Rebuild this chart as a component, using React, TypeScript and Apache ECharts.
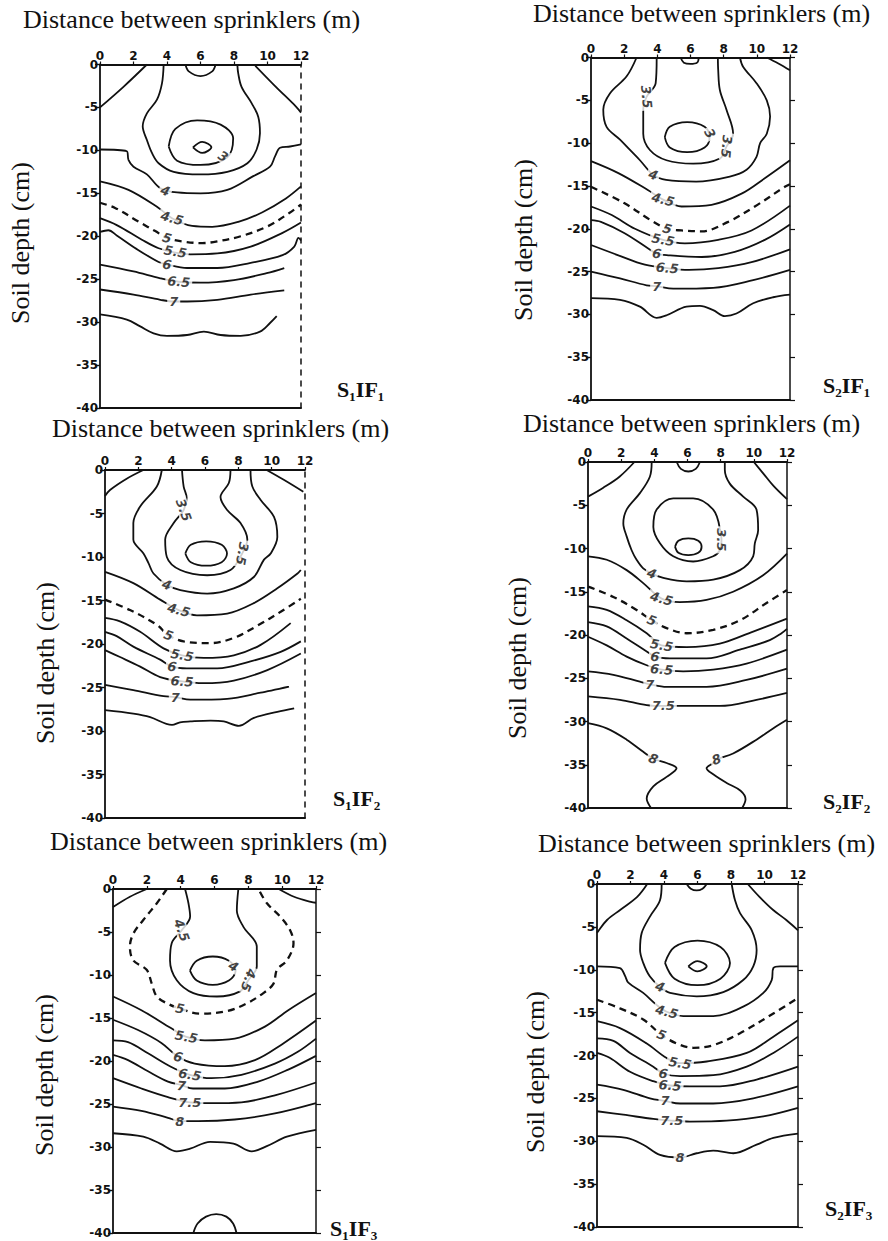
import { useEffect, useRef } from "react";
import * as echarts from "echarts";

// ---------- texts ----------
const TITLE = "Distance between sprinklers (m)";
const Y_NAME = "Soil depth (cm)";
const panelTags = ["S₁IF₁", "S₂IF₁", "S₁IF₂", "S₂IF₂", "S₁IF₃", "S₂IF₃"];

// ---------- axes ----------
const distMin = 0;
const distMax = 12;
const distStep = 2;
const depthMin = -40;
const depthMax = 0;
const depthStep = 5;

// ---------- panel 1 (S1IF1) contours: [distance m, depth cm] ----------
const p1_cap = [[5.1, 0], [5.3, -0.8], [6.0, -1.35], [6.7, -0.8], [6.9, 0]];
const p1_left = [[2.8, 0], [1.4, -2.6], [0, -5.0]];
const p1_right = [[9.2, 0], [10.5, -2.6], [11.7, -4.9], [12, -5.6]];
const p1_bulb = [[3.8, 0], [3.7, -2.2], [3.4, -4.1], [2.8, -5.7], [2.55, -7.2], [2.8, -8.8], [3.1, -10.3], [3.5, -11.5], [4.4, -12.5], [6.0, -12.8], [7.6, -12.5], [8.8, -11.5], [9.35, -9.9], [9.55, -8.0], [9.45, -6.1], [9.05, -4.5], [8.45, -2.6], [8.25, -1.0], [8.2, 0]];
const p1_c3 = [[4.1, -9.55], [4.5, -7.5], [5.8, -6.5], [7.2, -7.0], [7.95, -8.6], [7.6, -10.8], [6.0, -11.7], [4.6, -11.2], [4.1, -9.55]];
const p1_core = [[5.55, -9.65], [6.1, -9.0], [6.65, -9.65], [6.1, -10.3], [5.55, -9.65]];
const p1_c4 = [[0, -9.9], [1.6, -10.1], [1.7, -11.1], [2.0, -11.9], [2.8, -12.8], [3.6, -14.4], [4.6, -14.9], [6.0, -15.0], [7.6, -14.6], [9.15, -13.0], [10.15, -11.9], [10.45, -10.7], [10.75, -9.7], [11.35, -9.55], [12, -9.3]];
const p1_c45 = [[0, -13.6], [1.7, -14.6], [3.5, -16.7], [4.3, -17.9], [5.5, -18.8], [6.7, -18.9], [8.3, -18.3], [9.7, -17.2], [11.1, -15.6], [12, -14.2]];
const p1_c5 = [[0, -16.1], [0.9, -16.7], [2.3, -18.3], [3.3, -19.4], [4.0, -20.2], [4.9, -20.6], [6.1, -20.8], [7.0, -20.6], [8.4, -20.0], [9.95, -18.9], [11.3, -17.3], [12, -16.3]];
const p1_c55 = [[0, -17.9], [1.0, -18.7], [2.5, -20.4], [3.5, -21.4], [4.5, -21.9], [5.4, -22.1], [7.0, -22.0], [9.0, -21.2], [10.9, -19.6], [12, -18.4]];
const p1_c6 = [[0, -19.5], [0.5, -19.3], [1.0, -19.9], [2.2, -21.5], [3.5, -23.0], [4.0, -23.3], [5.2, -23.7], [7.0, -23.7], [9.0, -23.1], [10.9, -22.2], [11.6, -21.2], [11.85, -20.2], [12, -20.5]];
const p1_c65 = [[0, -23.3], [2.0, -24.1], [3.6, -24.9], [4.7, -25.3], [6.0, -25.4], [8.0, -25.1], [9.95, -24.3], [11.0, -23.7]];
const p1_c7 = [[0, -26.2], [2.0, -26.8], [3.6, -27.4], [4.4, -27.6], [5.2, -27.6], [7.0, -27.4], [9.0, -26.8], [11.0, -26.3]];
const p1_c75 = [[0, -29.1], [1.6, -29.7], [2.4, -30.5], [3.2, -31.3], [4.0, -31.6], [5.2, -31.5], [6.2, -31.1], [7.2, -31.5], [8.4, -31.6], [9.55, -31.1], [10.15, -30.1], [10.55, -29.3]];
const p1_labels = [[7.35, -10.7, "3"], [3.9, -14.7, "4"], [4.3, -17.9, "4.5"], [4.0, -20.2, "5"], [4.5, -21.8, "5.5"], [4.0, -23.3, "6"], [4.7, -25.3, "6.5"], [4.4, -27.6, "7"]];

// ---------- panel 2 (S2IF1) ----------
const p2_cap = [[5.4, 0], [5.6, -0.6], [6.0, -0.75], [6.4, -0.6], [6.5, 0]];
const p2_corner = [[10.6, 0], [11.3, -0.7], [12, -1.5]];
const p2_c4 = [[2.75, 0], [2.15, -2.2], [1.14, -4.2], [0.74, -6.1], [0.94, -8.1], [1.75, -9.6], [2.35, -10.8], [2.95, -12.0], [3.75, -13.7], [4.53, -14.3], [6.34, -14.5], [8.37, -13.9], [9.38, -13.1], [9.98, -11.6], [10.2, -10.0], [10.6, -8.9], [10.8, -6.9], [10.6, -5.0], [9.98, -3.0], [9.17, -1.07], [8.98, 0]];
const p2_c35 = [[3.96, 0], [3.9, -3.0], [3.35, -4.6], [3.15, -6.1], [3.15, -8.9], [3.55, -10.8], [4.55, -12.0], [6.16, -12.4], [7.77, -11.8], [8.17, -10.4], [8.57, -8.9], [8.17, -6.1], [7.77, -3.8], [7.67, -1.46], [7.65, 0]];
const p2_c3 = [[4.45, -9.3], [4.75, -8.1], [5.8, -7.55], [6.85, -8.1], [7.15, -9.3], [6.85, -10.5], [5.8, -11.05], [4.75, -10.5], [4.45, -9.3]];
const p2_c45 = [[0, -12.1], [1.65, -13.5], [3.45, -15.5], [4.35, -16.6], [5.46, -17.4], [7.27, -17.2], [9.08, -15.9], [10.48, -14.1], [12, -12.0]];
const p2_c5 = [[0, -15.1], [2.0, -17.0], [3.6, -19.0], [4.6, -20.0], [5.46, -20.2], [6.67, -20.3], [8.27, -19.2], [9.88, -17.4], [11.69, -15.1], [12, -14.8]];
const p2_c55 = [[0, -17.4], [1.25, -18.4], [2.65, -20.0], [4.35, -21.3], [5.66, -21.7], [7.67, -21.3], [9.68, -20.2], [12, -17.3]];
const p2_c6 = [[0, -19.0], [0.6, -19.2], [2.0, -20.5], [3.45, -22.3], [3.96, -22.9], [4.66, -23.1], [6.67, -23.3], [8.67, -22.7], [10.48, -21.3], [12, -19.5]];
const p2_c65 = [[0, -21.9], [1.65, -23.1], [3.25, -24.2], [4.6, -24.6], [5.9, -24.8], [7.67, -24.6], [9.68, -23.9], [12, -22.4]];
const p2_c7 = [[0, -25.0], [1.75, -25.8], [3.35, -26.6], [3.96, -26.7], [4.96, -27.0], [7.37, -26.9], [9.78, -26.0], [12, -24.8]];
const p2_c75 = [[0, -28.1], [1.75, -28.3], [2.95, -29.1], [3.96, -30.4], [4.56, -30.1], [5.76, -29.1], [6.57, -29.0], [7.37, -29.5], [8.07, -30.2], [8.77, -29.9], [9.78, -28.7], [10.98, -28.0], [12, -27.7]];
const p2_labels = [[7.17, -8.86, "3"], [3.35, -4.6, "3.5"], [8.17, -10.4, "3.5"], [3.75, -13.7, "4"], [4.35, -16.6, "4.5"], [4.6, -20.0, "5"], [4.35, -21.3, "5.5"], [3.96, -22.9, "6"], [4.6, -24.6, "6.5"], [3.96, -26.7, "7"]];

// ---------- panel 3 (S1IF2) ----------
const p3_left = [[2.3, 0], [1.3, -1.0], [0.3, -2.3], [0, -3.0]];
const p3_right = [[9.7, 0], [10.7, -1.1], [11.9, -2.5]];
const p3_c4 = [[3.41, 0], [3.11, -1.9], [2.11, -4.2], [1.7, -6.1], [1.7, -8.0], [2.31, -9.6], [2.61, -10.7], [2.91, -11.9], [3.71, -13.2], [4.52, -13.8], [6.13, -14.2], [7.73, -13.6], [8.93, -12.3], [9.54, -10.3], [9.94, -9.6], [10.34, -7.7], [10.14, -5.4], [9.34, -3.45], [8.84, -1.9], [8.73, 0]];
const p3_c35 = [[4.62, 0], [4.72, -1.9], [4.9, -3.2], [4.72, -4.6], [4.12, -6.1], [3.61, -8.0], [3.71, -10.0], [4.52, -11.5], [6.13, -12.1], [7.53, -11.5], [8.23, -9.6], [8.54, -8.0], [8.13, -6.1], [7.33, -4.6], [6.93, -3.1], [7.43, -1.5], [7.53, 0]];
const p3_c3 = [[4.82, -9.6], [5.15, -8.6], [6.07, -8.2], [7.0, -8.6], [7.32, -9.6], [7.0, -10.6], [6.07, -11.0], [5.15, -10.6], [4.82, -9.6]];
const p3_c45 = [[0, -11.7], [1.7, -13.0], [3.31, -14.9], [4.42, -16.1], [5.52, -16.7], [7.33, -16.5], [8.93, -15.3], [10.34, -13.6], [11.55, -11.9], [11.75, -11.5]];
const p3_c5 = [[0, -14.9], [1.5, -16.1], [3.11, -17.8], [3.81, -19.0], [4.72, -19.7], [6.33, -19.9], [7.73, -19.3], [9.14, -17.9], [10.54, -16.3], [11.75, -14.8]];
const p3_c55 = [[0, -17.0], [0.9, -17.4], [2.11, -18.6], [3.51, -20.5], [4.62, -21.3], [5.92, -21.6], [7.73, -21.3], [9.34, -20.1], [11.14, -17.6]];
const p3_c6 = [[0, -18.6], [0.7, -19.1], [1.7, -20.3], [3.31, -21.8], [4.02, -22.6], [4.92, -22.8], [6.73, -22.8], [8.73, -22.0], [10.54, -20.9], [11.75, -19.7]];
const p3_c65 = [[0, -20.7], [0.9, -21.5], [2.11, -22.6], [3.31, -23.8], [4.62, -24.3], [5.92, -24.5], [7.73, -24.2], [9.74, -23.0], [11.75, -21.1]];
const p3_c7 = [[0, -24.7], [1.7, -25.3], [3.51, -26.0], [4.22, -26.1], [5.12, -26.4], [7.33, -26.3], [9.34, -25.6], [11.04, -24.9]];
const p3_c75 = [[0, -27.6], [1.7, -28.0], [2.71, -28.4], [4.02, -29.3], [4.5, -29.0], [5.12, -28.9], [6.33, -28.8], [7.13, -28.9], [8.03, -29.4], [8.93, -28.5], [10.34, -27.8], [11.35, -27.4]];
const p3_labels = [[4.72, -4.6, "3.5"], [8.23, -9.6, "3.5"], [3.71, -13.2, "4"], [4.42, -16.1, "4.5"], [3.81, -19.0, "5"], [4.62, -21.3, "5.5"], [4.02, -22.6, "6"], [4.62, -24.3, "6.5"], [4.22, -26.1, "7"]];

// ---------- panel 4 (S2IF2) ----------
const p4_cap = [[5.35, 0], [5.6, -0.8], [6.05, -1.1], [6.5, -0.8], [6.75, 0]];
const p4_left = [[2.8, 0], [1.9, -1.7], [0.9, -3.0], [0, -4.0]];
const p4_right = [[10.0, 0], [10.6, -1.4], [11.2, -2.8], [12, -4.3]];
const p4_c4 = [[3.84, 0], [3.73, -1.7], [3.13, -3.6], [2.33, -5.5], [2.13, -7.1], [2.33, -8.6], [2.63, -10.2], [2.93, -11.3], [3.33, -12.3], [3.84, -12.9], [4.54, -13.4], [5.95, -13.8], [7.55, -13.6], [9.16, -12.5], [9.96, -10.9], [10.06, -9.4], [10.26, -7.9], [10.16, -5.5], [9.36, -4.0], [8.55, -2.5], [8.25, -0.9], [8.25, 0]];
const p4_c35 = [[7.95, -7.7], [7.55, -5.5], [6.34, -4.2], [5.14, -4.2], [4.14, -5.5], [3.94, -7.5], [4.34, -9.4], [5.14, -10.9], [6.34, -11.5], [7.55, -10.9], [7.95, -10.2], [8.05, -9.0], [7.95, -7.7]];
const p4_c3 = [[5.25, -9.8], [5.45, -9.1], [6.05, -8.83], [6.65, -9.1], [6.85, -9.8], [6.65, -10.5], [6.05, -10.77], [5.45, -10.5], [5.25, -9.8]];
const p4_c45 = [[0, -10.9], [1.13, -11.3], [2.33, -12.5], [3.33, -14.0], [4.44, -15.8], [5.54, -16.2], [7.15, -15.95], [8.75, -15.0], [10.56, -13.1], [12, -10.6]];
const p4_c5 = [[0, -14.4], [1.53, -15.6], [2.93, -17.1], [3.84, -18.3], [4.74, -19.2], [5.95, -19.8], [7.55, -19.4], [9.16, -18.3], [10.77, -16.3], [12, -14.8]];
const p4_c55 = [[0, -16.7], [1.13, -17.1], [2.33, -18.3], [3.54, -19.8], [4.44, -21.2], [5.95, -21.4], [7.95, -21.0], [9.96, -19.6], [12, -18.1]];
const p4_c6 = [[0, -18.5], [1.13, -19.0], [2.33, -20.4], [3.54, -21.9], [4.04, -22.5], [4.94, -22.7], [7.15, -22.7], [9.16, -21.7], [10.96, -20.6], [11.67, -19.8], [12, -19.3]];
const p4_c65 = [[0, -20.2], [1.13, -21.2], [2.33, -22.5], [3.54, -23.5], [4.44, -24.0], [5.74, -24.2], [7.55, -24.0], [9.56, -23.3], [12, -21.7]];
const p4_c7 = [[0, -24.2], [1.53, -24.6], [3.13, -25.4], [3.73, -25.7], [4.74, -26.0], [7.15, -26.0], [9.56, -25.2], [12, -23.9]];
const p4_c75 = [[0, -27.1], [1.93, -27.5], [3.54, -28.1], [4.54, -28.2], [5.74, -28.2], [7.95, -28.2], [10.16, -27.5], [12, -26.7]];
const p4_c8a = [[0, -30.2], [1.13, -30.8], [2.33, -32.1], [3.33, -33.5], [3.94, -34.3], [4.74, -34.8], [5.34, -35.4], [4.74, -36.4], [3.94, -37.5], [3.54, -38.9], [3.8, -40]];
const p4_c8b = [[9.3, -40], [9.5, -39.0], [9.2, -38.0], [8.36, -37.1], [7.55, -36.1], [7.15, -35.4], [7.55, -34.8], [7.75, -34.4], [8.75, -33.7], [10.16, -32.1], [11.16, -30.8], [12, -29.8]];
const p4_labels = [[8.05, -9.0, "3.5"], [3.84, -12.9, "4"], [4.44, -15.8, "4.5"], [3.84, -18.3, "5"], [4.44, -21.2, "5.5"], [4.04, -22.5, "6"], [4.44, -24.0, "6.5"], [3.73, -25.7, "7"], [4.54, -28.2, "7.5"], [3.94, -34.3, "8"], [7.75, -34.4, "8"]];

// ---------- panel 5 (S1IF3) ----------
const p5_left = [[2.0, 0], [1.0, -0.9], [0, -2.1]];
const p5_right = [[9.8, 0], [10.7, -0.9], [11.7, -1.5], [12, -1.6]];
const p5_c5 = [[3.18, 0], [2.59, -1.66], [1.79, -3.6], [1.2, -5.2], [1.0, -6.7], [1.2, -8.3], [1.99, -9.4], [2.29, -11.0], [2.59, -12.5], [3.3, -13.4], [3.96, -13.9], [5.15, -14.5], [6.73, -14.2], [7.91, -13.3], [8.89, -12.1], [9.49, -11.0], [9.69, -9.4], [10.28, -8.3], [10.67, -6.3], [10.47, -4.8], [9.88, -3.2], [9.1, -1.66], [8.6, 0]];
const p5_c45 = [[4.26, 0], [4.46, -1.66], [4.56, -3.2], [4.06, -4.8], [3.47, -6.3], [3.37, -8.3], [3.77, -10.6], [4.75, -12.1], [6.14, -12.5], [7.51, -11.9], [8.0, -10.6], [8.5, -9.0], [8.5, -6.7], [7.71, -4.4], [7.32, -2.5], [7.41, 0]];
const p5_c4 = [[4.55, -9.5], [4.95, -8.35], [5.9, -7.85], [6.85, -8.35], [7.25, -9.5], [6.85, -10.65], [5.9, -11.15], [4.95, -10.65], [4.55, -9.5]];
const p5_c55 = [[0, -12.5], [1.68, -14.1], [3.45, -16.2], [4.34, -17.2], [5.43, -17.6], [7.2, -17.4], [8.98, -16.0], [10.36, -14.1], [12, -12.1]];
const p5_c6 = [[0, -15.2], [1.48, -16.4], [2.86, -17.9], [3.85, -19.5], [4.83, -20.3], [6.61, -20.6], [8.39, -19.9], [9.96, -18.1], [12, -15.3]];
const p5_c65 = [[0, -17.6], [0.89, -17.8], [2.07, -19.1], [3.45, -20.7], [4.54, -21.6], [5.82, -22.0], [7.59, -21.6], [9.57, -20.3], [10.95, -18.9], [12, -17.4]];
const p5_c7 = [[0, -19.3], [0.89, -19.9], [2.07, -21.2], [3.25, -22.4], [4.04, -22.8], [4.73, -23.2], [6.61, -23.2], [8.58, -22.4], [10.36, -21.0], [12, -19.4]];
const p5_c75 = [[0, -22.0], [1.68, -23.2], [3.25, -24.2], [4.54, -24.8], [5.82, -24.9], [7.59, -24.8], [9.57, -24.0], [12, -22.5]];
const p5_c8 = [[0, -25.3], [1.68, -25.8], [3.25, -26.6], [3.95, -27.0], [5.03, -27.0], [7.2, -26.8], [9.57, -26.1], [12, -24.9]];
const p5_c85 = [[0, -28.4], [1.79, -28.8], [2.78, -29.6], [3.77, -30.5], [4.56, -30.2], [5.74, -29.4], [7.12, -29.6], [8.2, -30.5], [9.09, -29.9], [10.28, -28.8], [12, -28.0]];
const p5_bottom = [[4.75, -40], [5.0, -38.9], [5.5, -38.1], [6.1, -37.8], [6.7, -38.1], [7.1, -38.9], [7.3, -40]];
const p5_labels = [[7.12, -9.0, "4"], [4.06, -4.8, "4.5"], [8.0, -10.6, "4.5"], [3.96, -13.9, "5"], [4.34, -17.2, "5.5"], [3.85, -19.5, "6"], [4.54, -21.6, "6.5"], [4.04, -22.9, "7"], [4.54, -24.8, "7.5"], [3.95, -27.0, "8"]];

// ---------- panel 6 (S2IF3) ----------
const p6_cap = [[5.35, 0], [5.6, -0.55], [5.95, -0.75], [6.3, -0.55], [6.55, 0]];
const p6_left = [[3.0, 0], [2.4, -1.5], [1.4, -3.0], [0.6, -4.2], [0, -5.7]];
const p6_right = [[9.0, 0], [9.7, -1.5], [10.5, -3.0], [11.3, -4.2], [12, -5.4]];
const p6_c4 = [[3.86, 0], [3.76, -1.9], [3.16, -3.8], [2.67, -5.7], [2.57, -7.7], [2.76, -9.2], [3.16, -10.8], [3.76, -12.0], [4.36, -12.7], [5.95, -13.1], [7.54, -12.6], [8.73, -11.2], [9.33, -9.6], [9.53, -7.7], [9.24, -5.4], [8.54, -3.4], [8.24, -1.9], [8.04, 0]];
const p6_c35 = [[4.06, -9.2], [4.63, -7.36], [6.0, -6.6], [7.37, -7.36], [7.94, -9.2], [7.37, -11.04], [6.0, -11.8], [4.63, -11.04], [4.06, -9.2]];
const p6_c3 = [[5.45, -9.6], [6.0, -9.0], [6.55, -9.6], [6.0, -10.2], [5.45, -9.6]];
const p6_c45 = [[0, -9.6], [1.37, -9.8], [1.67, -10.7], [1.87, -11.5], [2.76, -12.7], [3.56, -14.1], [4.16, -14.9], [5.15, -15.4], [6.94, -15.4], [8.73, -14.3], [9.93, -12.7], [10.43, -11.2], [10.53, -9.8], [10.93, -9.6], [12, -9.6]];
const p6_c5 = [[0, -13.5], [1.37, -14.5], [2.76, -15.8], [3.86, -17.6], [4.76, -18.6], [5.75, -19.1], [6.94, -18.8], [8.54, -17.4], [10.53, -15.1], [12, -13.3]];
const p6_c55 = [[0, -16.0], [1.37, -16.8], [2.97, -18.6], [4.16, -20.3], [4.96, -20.9], [6.55, -20.7], [8.94, -19.7], [10.53, -17.8], [12, -15.9]];
const p6_c6 = [[0, -18.0], [0.98, -18.3], [1.97, -19.7], [3.36, -21.3], [3.96, -22.1], [4.96, -22.4], [6.94, -22.3], [8.94, -21.3], [10.53, -19.7], [12, -17.8]];
const p6_c65 = [[0, -19.7], [0.78, -20.3], [1.97, -21.9], [3.36, -23.0], [4.36, -23.5], [5.55, -23.6], [7.34, -23.6], [9.53, -22.8], [12, -21.3]];
const p6_c7 = [[0, -23.4], [1.57, -24.0], [3.16, -25.0], [4.06, -25.3], [4.96, -25.6], [6.94, -25.6], [9.33, -25.0], [12, -23.6]];
const p6_c75 = [[0, -26.5], [1.57, -26.9], [3.36, -27.4], [4.46, -27.6], [5.55, -27.7], [7.74, -27.6], [9.93, -27.1], [12, -26.1]];
const p6_c8 = [[0, -29.4], [1.77, -29.6], [2.76, -30.4], [3.76, -31.6], [4.96, -31.9], [5.95, -31.4], [6.94, -31.1], [8.14, -31.4], [9.53, -30.4], [10.53, -29.6], [12, -29.1]];
const p6_labels = [[3.76, -12.0, "4"], [4.16, -14.9, "4.5"], [3.86, -17.6, "5"], [4.96, -20.9, "5.5"], [3.96, -22.1, "6"], [4.36, -23.5, "6.5"], [4.06, -25.3, "7"], [4.46, -27.6, "7.5"], [4.96, -31.9, "8"]];

// ---------- grouping (solid vs dashed contours) ----------
const panelSolid = [
  [p1_cap, p1_left, p1_right, p1_bulb, p1_c3, p1_core, p1_c4, p1_c45, p1_c55, p1_c6, p1_c65, p1_c7, p1_c75],
  [p2_cap, p2_corner, p2_c4, p2_c35, p2_c3, p2_c45, p2_c55, p2_c6, p2_c65, p2_c7, p2_c75],
  [p3_left, p3_right, p3_c4, p3_c35, p3_c3, p3_c45, p3_c55, p3_c6, p3_c65, p3_c7, p3_c75],
  [p4_cap, p4_left, p4_right, p4_c4, p4_c35, p4_c3, p4_c45, p4_c55, p4_c6, p4_c65, p4_c7, p4_c75, p4_c8a, p4_c8b],
  [p5_left, p5_right, p5_c45, p5_c4, p5_c55, p5_c6, p5_c65, p5_c7, p5_c75, p5_c8, p5_c85, p5_bottom],
  [p6_cap, p6_left, p6_right, p6_c4, p6_c35, p6_c3, p6_c45, p6_c55, p6_c6, p6_c65, p6_c7, p6_c75, p6_c8],
];
const panelDashed = [[p1_c5], [p2_c5], [p3_c5], [p4_c5], [p5_c5], [p6_c5]];
const panelLabels = [p1_labels, p2_labels, p3_labels, p4_labels, p5_labels, p6_labels];

// ---------- layout / style (pixels) ----------
const gridBoxes = [
  { left: 100, top: 64.5, width: 201, height: 343.5 },
  { left: 591, top: 57.5, width: 199, height: 342.5 },
  { left: 105, top: 470, width: 200, height: 348 },
  { left: 588, top: 462, width: 199, height: 346 },
  { left: 113, top: 889, width: 203, height: 344 },
  { left: 597, top: 884, width: 201, height: 343 },
];
const titlePos = [[23, 19], [533, 13], [52, 428], [523, 423], [50, 841], [538, 843]];
const yNamePos = [[20, 243], [523, 240], [45, 663], [517, 658], [44, 1075], [535, 1072]];
const tagPos = [[337, 389], [823, 385], [333, 798], [823, 801], [330, 1228], [825, 1208]];
const rightAxisDashed = [true, false, true, false, false, false];
const rightAxisTicks = [false, true, false, true, true, true];
const labelRotation = [
  [-30, -20, -15, -15, -10, -10, -5, 0],
  [-60, -85, -95, -20, -15, -15, -10, -10, -5, 0],
  [-70, -100, -20, -15, -20, -10, -10, -5, 0],
  [-90, -20, -15, -20, -10, -10, -5, 0, 0, -20, 20],
  [-30, -70, -110, -10, -10, -15, -10, -5, 0, 0],
  [-20, -15, -20, -10, -10, -5, 0, 0, 0],
];

const INK = "#111111";

function buildOption() {
  const grid: any[] = [];
  const xAxis: any[] = [];
  const yAxis: any[] = [];
  const series: any[] = [];
  const graphic: any[] = [];

  const tickFont = {
    fontFamily: "DejaVu Sans",
    fontWeight: "bold",
    fontSize: 12,
    color: INK,
  };

  gridBoxes.forEach((g, i) => {
    grid.push({ ...g, containLabel: false, outerBoundsMode: "none" });
    xAxis.push({
      type: "value",
      gridIndex: i,
      position: "top",
      min: distMin,
      max: distMax,
      interval: distStep,
      axisLine: { show: true, onZero: false, lineStyle: { color: INK, width: 1.8 } },
      axisTick: { show: true, length: 3, lineStyle: { color: INK, width: 1.2 } },
      axisLabel: { ...tickFont, margin: 3 },
      splitLine: { show: false },
    });
    xAxis.push({
      type: "value",
      gridIndex: i,
      position: "bottom",
      min: distMin,
      max: distMax,
      interval: distStep,
      axisLine: { show: true, onZero: false, lineStyle: { color: INK, width: 1.8 } },
      axisTick: { show: false },
      axisLabel: { show: false },
      splitLine: { show: false },
    });
    yAxis.push({
      type: "value",
      gridIndex: i,
      position: "left",
      min: depthMin,
      max: depthMax,
      interval: depthStep,
      axisLine: { show: true, onZero: false, lineStyle: { color: INK, width: 1.8 } },
      axisTick: { show: true, length: 5, lineStyle: { color: INK, width: 1.4 } },
      axisLabel: { ...tickFont, margin: 2, formatter: (v: number) => String(v) },
      splitLine: { show: false },
    });
    yAxis.push({
      type: "value",
      gridIndex: i,
      position: "right",
      min: depthMin,
      max: depthMax,
      interval: depthStep,
      axisLine: {
        show: true,
        onZero: false,
        lineStyle: { color: INK, width: 1.5, type: rightAxisDashed[i] ? [5, 6] : "solid" },
      },
      axisTick: { show: rightAxisTicks[i], length: 5, lineStyle: { color: INK, width: 1.2 } },
      axisLabel: { show: false },
      splitLine: { show: false },
    });

    const xi = i * 2;
    const yi = i * 2;
    panelSolid[i].forEach((d) => {
      series.push({
        type: "line",
        xAxisIndex: xi,
        yAxisIndex: yi,
        data: d,
        showSymbol: false,
        symbol: "none",
        smooth: 0.35,
        silent: true,
        z: 2,
        lineStyle: { color: INK, width: 1.8 },
      });
    });
    panelDashed[i].forEach((d) => {
      series.push({
        type: "line",
        xAxisIndex: xi,
        yAxisIndex: yi,
        data: d,
        showSymbol: false,
        symbol: "none",
        smooth: 0.35,
        silent: true,
        z: 2,
        lineStyle: { color: INK, width: 2.3, type: [7, 5] },
      });
    });
    series.push({
      type: "scatter",
      xAxisIndex: xi,
      yAxisIndex: yi,
      symbolSize: 1,
      silent: true,
      z: 10,
      itemStyle: { color: "rgba(0,0,0,0)" },
      data: panelLabels[i].map((l: any, j: number) => ({
        value: [l[0], l[1]],
        name: l[2],
        label: { rotate: labelRotation[i][j] || 0 },
      })),
      label: {
        show: true,
        position: "inside",
        formatter: "{b}",
        fontFamily: "DejaVu Sans",
        fontStyle: "italic",
        fontWeight: "bold",
        fontSize: 13,
        color: INK,
        backgroundColor: "#ffffff",
        padding: [0, 2],
      },
    });

    graphic.push({
      type: "text",
      x: titlePos[i][0],
      y: titlePos[i][1],
      style: {
        text: TITLE,
        font: '26px "Liberation Serif", "DejaVu Serif", serif',
        fill: INK,
        align: "left",
        verticalAlign: "middle",
      },
    });
    graphic.push({
      type: "text",
      x: yNamePos[i][0],
      y: yNamePos[i][1],
      rotation: Math.PI / 2,
      style: {
        text: Y_NAME,
        font: '26px "Liberation Serif", "DejaVu Serif", serif',
        fill: INK,
        align: "center",
        verticalAlign: "middle",
      },
    });
    graphic.push({
      type: "text",
      x: tagPos[i][0],
      y: tagPos[i][1],
      style: {
        text: panelTags[i],
        font: 'bold 22px "Liberation Serif", "DejaVu Serif", serif',
        fill: INK,
        align: "left",
        verticalAlign: "middle",
      },
    });
  });

  return {
    animation: false,
    backgroundColor: "#ffffff",
    grid,
    xAxis,
    yAxis,
    series,
    graphic,
  };
}

export default function App() {
  const ref = useRef<HTMLDivElement | null>(null);
  useEffect(() => {
    if (!ref.current) return;
    const chart = echarts.init(ref.current, null, { renderer: "svg" });
    chart.setOption(buildOption() as any);
    return () => chart.dispose();
  }, []);
  return (
    <div
      ref={ref}
      style={{ position: "absolute", left: 0, top: 0, width: 888, height: 1241, background: "#fff" }}
    />
  );
}
